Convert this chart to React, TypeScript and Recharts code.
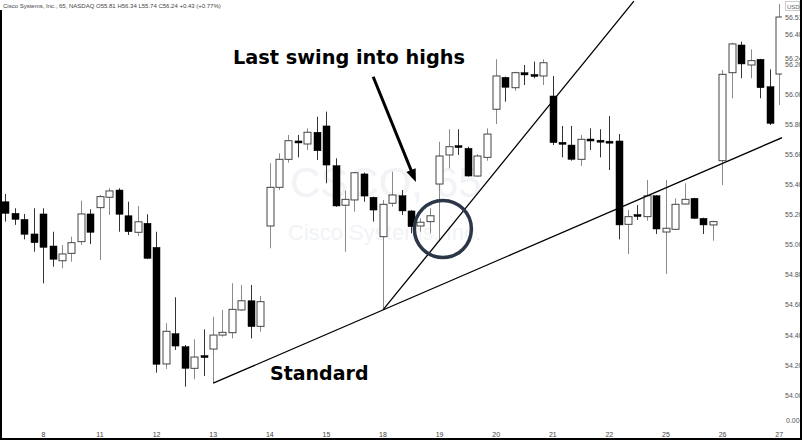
import { ComposedChart, Bar, XAxis, YAxis, ReferenceLine, ReferenceDot } from "recharts";

// 65-minute bars
const opens = [
  55.286, 55.209, 55.169, 55.072, 55.205, 54.992, 54.894, 54.943, 55.021, 55.205,
  55.247, 55.316, 55.364, 55.193, 55.083, 55.143, 54.983, 54.208, 54.409, 54.323,
  54.179, 54.258, 54.307, 54.400, 54.416, 54.567, 54.628, 54.458, 55.125, 55.382,
  55.568, 55.684, 55.670, 55.748, 55.790, 55.526, 55.263, 55.298, 55.471, 55.316,
  55.054, 55.276, 55.326, 55.225, 55.125, 55.154, 55.404, 55.597, 55.657, 55.641,
  55.457, 55.581, 55.901, 56.113, 56.044, 56.144, 56.129, 56.122, 55.989, 55.679,
  55.663, 55.568, 55.701, 55.692, 55.685, 55.690, 55.136, 55.198, 55.187, 55.326,
  55.085, 55.103, 55.271, 55.309, 55.176, 55.132, 55.559, 56.144, 56.328, 56.195,
  56.233, 56.051, 56.135,
];
const highs = [
  55.338, 55.243, 55.205, 55.243, 55.243, 55.087, 54.999, 55.054, 55.293, 55.236,
  55.331, 55.376, 55.376, 55.286, 55.258, 55.203, 55.087, 54.478, 54.651, 54.334,
  54.372, 54.438, 54.522, 54.567, 54.744, 54.733, 54.733, 54.660, 55.542, 55.608,
  55.730, 55.730, 55.774, 55.851, 55.885, 55.575, 55.360, 55.485, 55.480, 55.320,
  55.298, 55.486, 55.364, 55.230, 55.176, 55.243, 55.685, 55.768, 55.768, 55.652,
  55.603, 55.774, 56.233, 56.118, 56.150, 56.195, 56.217, 56.233, 56.122, 55.790,
  55.790, 55.730, 55.774, 55.768, 55.856, 55.736, 55.231, 55.264, 55.431, 55.330,
  55.431, 55.309, 55.409, 55.312, 55.180, 55.160, 56.162, 56.343, 56.350, 56.299,
  56.236, 56.166, 56.600,
];
const lows = [
  55.154, 55.132, 55.036, 54.954, 54.744, 54.854, 54.844, 54.888, 54.999, 55.005,
  54.899, 55.198, 55.087, 55.065, 55.058, 54.905, 54.150, 54.175, 54.301, 54.057,
  54.106, 54.128, 54.080, 54.389, 54.378, 54.560, 54.378, 54.422, 54.977, 55.364,
  55.546, 55.581, 55.630, 55.564, 55.409, 55.253, 54.954, 55.220, 55.286, 55.154,
  54.567, 55.253, 55.198, 55.076, 55.087, 55.076, 55.032, 55.508, 55.597, 55.453,
  55.453, 55.559, 55.803, 55.951, 56.024, 56.062, 56.107, 56.062, 55.663, 55.581,
  55.559, 55.524, 55.630, 55.581, 55.497, 55.036, 54.939, 55.165, 55.160, 55.072,
  54.806, 55.100, 55.268, 55.172, 55.072, 55.027, 55.397, 55.974, 56.107, 56.107,
  55.974, 55.796, 55.929,
];
const closes = [
  55.209, 55.169, 55.070, 55.014, 54.983, 54.904, 54.939, 55.014, 55.205, 55.083,
  55.320, 55.358, 55.203, 55.087, 55.153, 54.910, 54.206, 54.425, 54.327, 54.179,
  54.254, 54.256, 54.400, 54.418, 54.571, 54.628, 54.456, 54.622, 55.382, 55.568,
  55.692, 55.683, 55.748, 55.625, 55.530, 55.258, 55.302, 55.479, 55.324, 55.231,
  55.269, 55.331, 55.225, 55.120, 55.150, 55.193, 55.590, 55.652, 55.648, 55.457,
  55.590, 55.736, 56.122, 56.047, 56.144, 56.129, 56.122, 56.210, 55.679, 55.670,
  55.568, 55.701, 55.692, 55.685, 55.679, 55.132, 55.187, 55.191, 55.326, 55.105,
  55.110, 55.269, 55.302, 55.176, 55.132, 55.154, 56.133, 56.335, 56.202, 56.224,
  56.044, 55.807, 56.514,
];

const dayStarts = [4, 10, 16, 22, 28, 34, 40, 46, 52, 58, 64, 70, 76, 82];
const dayLabels = ["8", "11", "12", "13", "14", "15", "18", "19", "20", "21", "22", "25", "26", "27"];
const priceTicks = [54.0, 54.2, 54.4, 54.6, 54.8, 55.0, 55.2, 55.4, 55.6, 55.8, 56.0, 56.2, 56.24, 56.4, 56.51];

// trend line anchors (bar index, price)
const standardLine = [
  { i: 22, p: 54.08 },
  { i: 82.3, p: 55.712 },
];
const swingLine = [
  { i: 40, p: 54.567 },
  { i: 66.6, p: 56.62 },
];
const arrowPts = [
  { i: 38.96, p: 56.117 },
  { i: 43.49, p: 55.417 },
];
const circleAt = { i: 46.35, p: 55.105 };

const data = opens.map((o, i) => ({
  i,
  open: o,
  high: highs[i],
  low: lows[i],
  close: closes[i],
  range: [lows[i], highs[i]],
}));

const Candle = (props: any) => {
  const { x, y, width, height, payload } = props;
  if (!payload) return null;
  const { open, high, low, close } = payload;
  const cx = Math.round(x + width / 2) + 0.5;
  const k = height / (high - low);
  const yOf = (v: number) => y + (high - v) * k;
  const up = close >= open;
  let top = yOf(Math.max(open, close));
  let bot = yOf(Math.min(open, close));
  const minH = up ? 1.5 : 2;
  if (bot - top < minH) {
    const mid = (top + bot) / 2;
    top = mid - minH / 2;
    bot = mid + minH / 2;
  }
  const bw = 7;
  return (
    <g>
      <line x1={cx} x2={cx} y1={y} y2={y + height} stroke={up ? "#8a8a8a" : "#333"} strokeWidth={1} />
      <rect
        x={cx - bw / 2}
        y={top}
        width={bw}
        height={bot - top}
        fill={up ? "#fff" : "#000"}
        stroke={up ? "#444" : "#000"}
        strokeWidth={up ? 1 : 0.5}
      />
    </g>
  );
};

const Arrow = (props: any) => {
  const { x1, y1, x2, y2 } = props;
  const dx = x2 - x1;
  const dy = y2 - y1;
  const len = Math.sqrt(dx * dx + dy * dy);
  const ux = dx / len;
  const uy = dy / len;
  const hl = 13;
  const hw = 5;
  const bx = x2 - ux * hl;
  const by = y2 - uy * hl;
  return (
    <g>
      <line x1={x1} y1={y1} x2={bx + ux * 2} y2={by + uy * 2} stroke="#000" strokeWidth={3} />
      <polygon
        points={`${x2},${y2} ${bx - uy * hw},${by + ux * hw} ${bx + uy * hw},${by - ux * hw}`}
        fill="#000"
      />
    </g>
  );
};

export default function App() {
  return (
    <div style={{ position: "fixed", left: 0, top: 0, width: 802, height: 440, background: "#fff" }}>
      <svg width={802} height={440} style={{ position: "absolute", left: 0, top: 0 }}>
        <text x={290} y={197} fontFamily="Liberation Sans" fontSize={42} fill="#f1f3f7">
          CSCO, 65
        </text>
        <text x={288} y={240} fontFamily="Liberation Sans" fontSize={22} fill="#f1f3f7">
          Cisco Systems, Inc.
        </text>
      </svg>
      <div style={{ position: "absolute", left: 0, top: 0 }}>
        <ComposedChart width={802} height={440} data={data} margin={{ top: 0, right: 0, bottom: 0, left: 0 }}>
          <XAxis
            type="number"
            dataKey="i"
            domain={[-0.6, 82.3]}
            allowDataOverflow
            ticks={dayStarts}
            interval={0}
            tickFormatter={(v: number) => dayLabels[dayStarts.indexOf(v)] ?? ""}
            axisLine={false}
            tickLine={false}
            tickSize={0}
            tickMargin={22}
            height={30}
            tick={{ fontSize: 7, fill: "#444", fontFamily: "Liberation Sans" }}
          />
          <YAxis
            type="number"
            orientation="right"
            domain={[53.902, 56.627]}
            allowDataOverflow
            ticks={priceTicks}
            interval={0}
            tickFormatter={(v: number) => v.toFixed(2)}
            axisLine={false}
            tickLine={false}
            tickSize={0}
            tickMargin={3}
            width={20}
            tick={{ fontSize: 7, fill: "#555", fontFamily: "Liberation Sans", textAnchor: "start" }}
          />
          <Bar dataKey="range" barSize={7} shape={<Candle />} isAnimationActive={false} />
          <ReferenceLine
            segment={[
              { x: standardLine[0].i, y: standardLine[0].p },
              { x: standardLine[1].i, y: standardLine[1].p },
            ]}
            stroke="#000"
            strokeWidth={1.3}
            ifOverflow="hidden"
          />
          <ReferenceLine
            segment={[
              { x: swingLine[0].i, y: swingLine[0].p },
              { x: swingLine[1].i, y: swingLine[1].p },
            ]}
            stroke="#000"
            strokeWidth={1.3}
            ifOverflow="hidden"
          />
          <ReferenceLine
            segment={[
              { x: arrowPts[0].i, y: arrowPts[0].p },
              { x: arrowPts[1].i, y: arrowPts[1].p },
            ]}
            shape={<Arrow />}
            ifOverflow="visible"
          />
          <ReferenceDot
            x={circleAt.i}
            y={circleAt.p}
            r={28.5}
            fill="none"
            stroke="#2c3649"
            strokeWidth={3.5}
            ifOverflow="visible"
          />
        </ComposedChart>
      </div>
      <svg width={802} height={440} style={{ position: "absolute", left: 0, top: 0, pointerEvents: "none" }}>
        <text x={3} y={8} fontFamily="Liberation Sans" fontSize={6} fill="#444">
          Cisco Systems, Inc., 65, NASDAQ  O55.81  H56.34  L55.74  C56.24  +0.43 (+0.77%)
        </text>
        <rect x={785.5} y={1.5} width={14} height={9} fill="#fff" stroke="#ccc" strokeWidth={1} />
        <text x={787} y={8.5} fontFamily="Liberation Sans" fontSize={6} fill="#666">
          USD
        </text>
        <text x={786} y={422.5} fontFamily="Liberation Sans" fontSize={7} fill="#555">
          0.00
        </text>
        <text
          x={233}
          y={64.3}
          fontFamily="DejaVu Sans"
          fontWeight="bold"
          fontSize={19}
          fill="#000"
          textLength={232}
          lengthAdjust="spacingAndGlyphs"
        >
          Last swing into highs
        </text>
        <text x={270} y={379.5} fontFamily="DejaVu Sans" fontWeight="bold" fontSize={19} fill="#000">
          Standard
        </text>
        <line x1={1} y1={10} x2={1} y2={440} stroke="#000" strokeWidth={2} />
        <line x1={0} y1={439} x2={802} y2={439} stroke="#000" strokeWidth={2} />
        <line x1={801} y1={0} x2={801} y2={440} stroke="#000" strokeWidth={2} />
      </svg>
    </div>
  );
}
